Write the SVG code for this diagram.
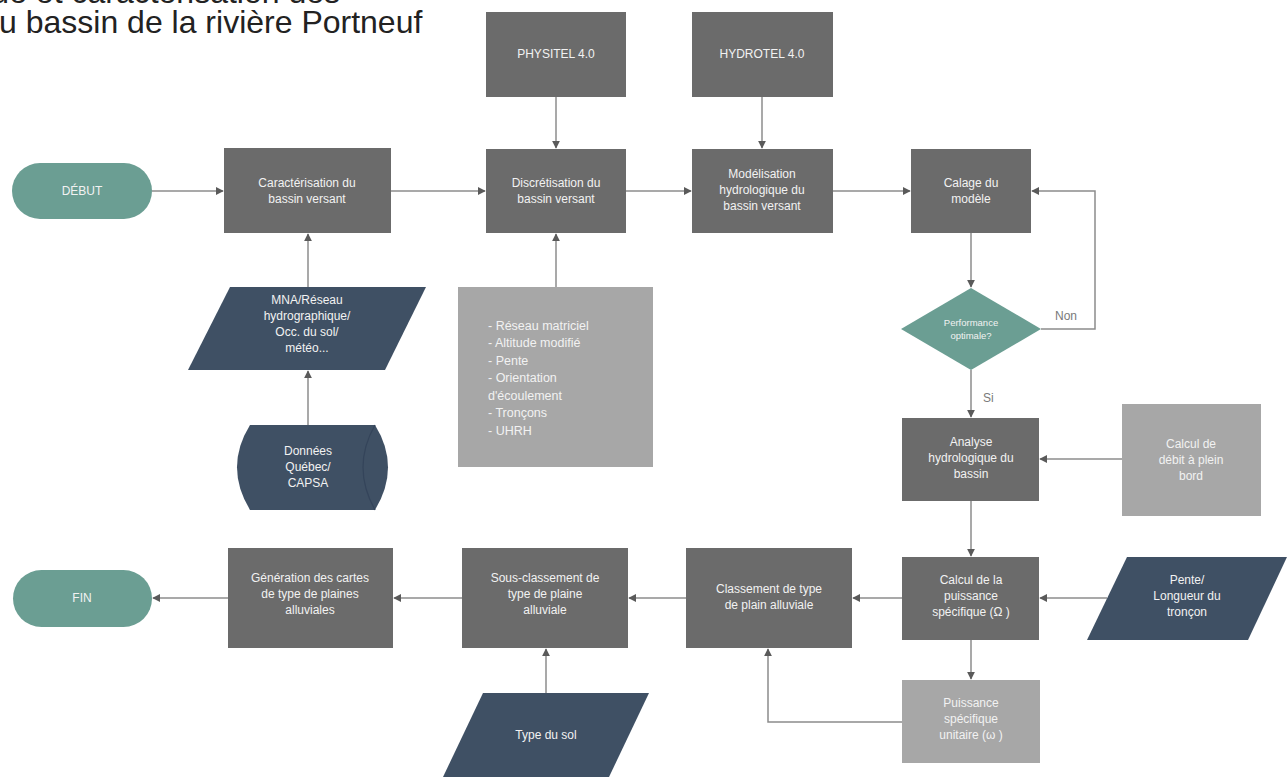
<svg xmlns="http://www.w3.org/2000/svg" width="1287" height="777" viewBox="0 0 1287 777">
<defs>
<style>
.dk{fill:#6b6b6b}
.lt{fill:#a7a7a7}
.tl{fill:#6b9e93}
.sl{fill:#3f5064}
.t{font-family:"Liberation Sans",Arial,sans-serif;font-size:12px;fill:#f2f2f2;text-anchor:middle}
.tlft{font-family:"Liberation Sans",Arial,sans-serif;font-size:12.5px;fill:#f2f2f2;text-anchor:start}
.ts{font-family:"Liberation Sans",Arial,sans-serif;font-size:9.5px;fill:#f2f2f2;text-anchor:middle}
.lb{font-family:"Liberation Sans",Arial,sans-serif;font-size:12px;fill:#7a7a7a}
.ttl{font-family:"Liberation Sans",Arial,sans-serif;font-size:32px;fill:#222}
.c{fill:none;stroke:#8c8c8c;stroke-width:1.5}
</style>
<marker id="ar" viewBox="0 0 10 10" refX="9" refY="5" markerWidth="8" markerHeight="8" markerUnits="userSpaceOnUse" orient="auto">
<path d="M0,0 L10,5 L0,10 Z" fill="#5a5a5a"/>
</marker>
</defs>
<rect width="1287" height="777" fill="#ffffff"/>
<g id="title">
<text class="ttl" x="340" y="3" text-anchor="end">ue et caractérisation des</text>
<text class="ttl" x="-1" y="33">u bassin de la rivière Portneuf</text>
</g>
<g id="connectors">
<line class="c" x1="152" y1="191" x2="223" y2="191" marker-end="url(#ar)"/>
<line class="c" x1="391" y1="191" x2="485" y2="191" marker-end="url(#ar)"/>
<line class="c" x1="626" y1="191" x2="691" y2="191" marker-end="url(#ar)"/>
<line class="c" x1="833" y1="191" x2="910" y2="191" marker-end="url(#ar)"/>
<line class="c" x1="556" y1="97" x2="556" y2="148" marker-end="url(#ar)"/>
<line class="c" x1="762" y1="97" x2="762" y2="148" marker-end="url(#ar)"/>
<line class="c" x1="308" y1="287" x2="308" y2="234" marker-end="url(#ar)"/>
<line class="c" x1="308" y1="425" x2="308" y2="371" marker-end="url(#ar)"/>
<line class="c" x1="556" y1="287" x2="556" y2="234" marker-end="url(#ar)"/>
<line class="c" x1="971" y1="233" x2="971" y2="287" marker-end="url(#ar)"/>
<polyline class="c" points="1041,329 1095,329 1095,191 1032,191" marker-end="url(#ar)"/>
<line class="c" x1="971" y1="370" x2="971" y2="417" marker-end="url(#ar)"/>
<line class="c" x1="1122" y1="459" x2="1040" y2="459" marker-end="url(#ar)"/>
<line class="c" x1="971" y1="501" x2="971" y2="556" marker-end="url(#ar)"/>
<line class="c" x1="1107" y1="598" x2="1040" y2="598" marker-end="url(#ar)"/>
<line class="c" x1="971" y1="640" x2="971" y2="679" marker-end="url(#ar)"/>
<line class="c" x1="902" y1="598" x2="853" y2="598" marker-end="url(#ar)"/>
<polyline class="c" points="902,722 768,722 768,649" marker-end="url(#ar)"/>
<line class="c" x1="686" y1="598" x2="629" y2="598" marker-end="url(#ar)"/>
<line class="c" x1="546" y1="693" x2="546" y2="649" marker-end="url(#ar)"/>
<line class="c" x1="462" y1="598" x2="394" y2="598" marker-end="url(#ar)"/>
<line class="c" x1="228" y1="598" x2="153" y2="598" marker-end="url(#ar)"/>
<text class="lb" x="1055" y="320">Non</text>
<text class="lb" x="983" y="402">Si</text>
</g>
<g id="debut">
<rect class="tl" x="12" y="163" width="140" height="56" rx="28"/>
<text class="t" x="82" y="195">DÉBUT</text>
</g>
<g id="caracterisation">
<rect class="dk" x="224" y="148" width="167" height="85"/>
<text class="t" x="307" y="187">Caractérisation du</text>
<text class="t" x="307" y="203">bassin versant</text>
</g>
<g id="physitel">
<rect class="dk" x="486" y="12" width="140" height="85"/>
<text class="t" x="556" y="58">PHYSITEL 4.0</text>
</g>
<g id="hydrotel">
<rect class="dk" x="692" y="12" width="141" height="85"/>
<text class="t" x="762" y="58">HYDROTEL 4.0</text>
</g>
<g id="discretisation">
<rect class="dk" x="486" y="149" width="140" height="84"/>
<text class="t" x="556" y="187">Discrétisation du</text>
<text class="t" x="556" y="203">bassin versant</text>
</g>
<g id="modelisation">
<rect class="dk" x="692" y="149" width="141" height="84"/>
<text class="t" x="762" y="178">Modélisation</text>
<text class="t" x="762" y="194">hydrologique du</text>
<text class="t" x="762" y="210">bassin versant</text>
</g>
<g id="calage">
<rect class="dk" x="911" y="149" width="120" height="84"/>
<text class="t" x="971" y="187">Calage du</text>
<text class="t" x="971" y="203">modèle</text>
</g>
<g id="performance">
<polygon class="tl" points="971,288 1041,329 971,370 901,329"/>
<text class="ts" x="971" y="326">Performance</text>
<text class="ts" x="971" y="339">optimale?</text>
</g>
<g id="mna">
<polygon class="sl" points="230,287 426,287 385,370 188,370"/>
<text class="t" x="307" y="304">MNA/Réseau</text>
<text class="t" x="307" y="320">hydrographique/</text>
<text class="t" x="307" y="336">Occ. du sol/</text>
<text class="t" x="307" y="352">météo...</text>
</g>
<g id="donnees">
<path class="sl" d="M250,425 L375,425 Q401,467 375,510 L250,510 Q224,467 250,425 Z"/>
<path d="M375,425 Q351,467 375,510" fill="none" stroke="#34445a" stroke-width="1.2"/>
<text class="t" x="308" y="455">Données</text>
<text class="t" x="308" y="471">Québec/</text>
<text class="t" x="308" y="487">CAPSA</text>
</g>
<g id="liste">
<rect class="lt" x="458" y="287" width="195" height="180"/>
<text class="tlft" x="488" y="330">- Réseau matriciel</text>
<text class="tlft" x="488" y="347">- Altitude modifié</text>
<text class="tlft" x="488" y="365">- Pente</text>
<text class="tlft" x="488" y="382">- Orientation</text>
<text class="tlft" x="488" y="400">d'écoulement</text>
<text class="tlft" x="488" y="417">- Tronçons</text>
<text class="tlft" x="488" y="435">- UHRH</text>
</g>
<g id="analyse">
<rect class="dk" x="902" y="418" width="137" height="83"/>
<text class="t" x="971" y="446">Analyse</text>
<text class="t" x="971" y="462">hydrologique du</text>
<text class="t" x="971" y="478">bassin</text>
</g>
<g id="debit">
<rect class="lt" x="1122" y="404" width="139" height="112"/>
<text class="t" x="1191" y="448">Calcul de</text>
<text class="t" x="1191" y="464">débit à plein</text>
<text class="t" x="1191" y="480">bord</text>
</g>
<g id="puissance">
<rect class="dk" x="902" y="557" width="137" height="83"/>
<text class="t" x="971" y="584">Calcul de la</text>
<text class="t" x="971" y="600">puissance</text>
<text class="t" x="971" y="616">spécifique (Ω )</text>
</g>
<g id="pente">
<polygon class="sl" points="1127,557 1287,557 1248,640 1087,640"/>
<text class="t" x="1187" y="584">Pente/</text>
<text class="t" x="1187" y="600">Longueur du</text>
<text class="t" x="1187" y="616">tronçon</text>
</g>
<g id="unitaire">
<rect class="lt" x="902" y="680" width="138" height="83"/>
<text class="t" x="971" y="707">Puissance</text>
<text class="t" x="971" y="723">spécifique</text>
<text class="t" x="971" y="739">unitaire (ω )</text>
</g>
<g id="classement">
<rect class="dk" x="686" y="548" width="166" height="100"/>
<text class="t" x="769" y="593">Classement de type</text>
<text class="t" x="769" y="609">de plain alluviale</text>
</g>
<g id="sousclassement">
<rect class="dk" x="462" y="548" width="166" height="100"/>
<text class="t" x="545" y="582">Sous-classement de</text>
<text class="t" x="545" y="598">type de plaine</text>
<text class="t" x="545" y="614">alluviale</text>
</g>
<g id="typesol">
<polygon class="sl" points="483,693 649,693 609,777 443,777"/>
<text class="t" x="546" y="739">Type du sol</text>
</g>
<g id="generation">
<rect class="dk" x="228" y="548" width="165" height="100"/>
<text class="t" x="310" y="582">Génération des cartes</text>
<text class="t" x="310" y="598">de type de plaines</text>
<text class="t" x="310" y="614">alluviales</text>
</g>
<g id="fin">
<rect class="tl" x="13" y="570" width="139" height="57" rx="28.5"/>
<text class="t" x="82" y="602">FIN</text>
</g>
</svg>
